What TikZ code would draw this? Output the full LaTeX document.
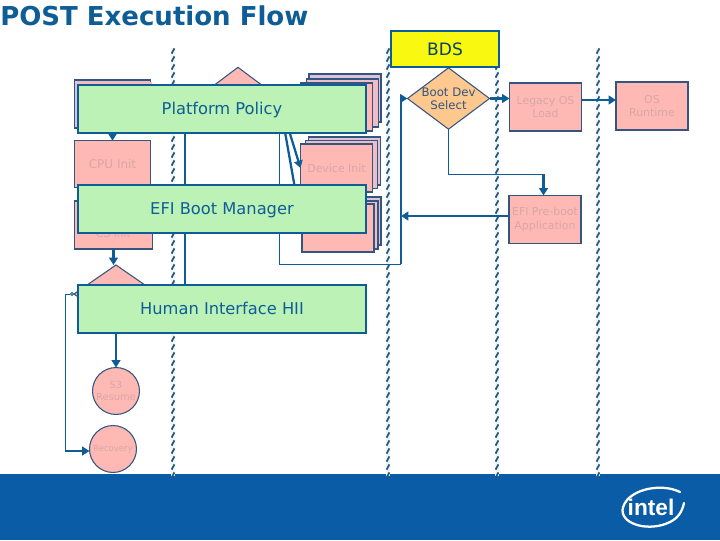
\documentclass[tikz,border=0pt]{standalone}
\usepackage{fontspec}
\setmainfont{DejaVu Sans}
\usetikzlibrary{arrows.meta,shapes.geometric}
\definecolor{postDeep}{HTML}{0F5D96}
\definecolor{postBand}{HTML}{0A5CA6}
\definecolor{postSlate}{HTML}{34557F}
\definecolor{postPink}{HTML}{FFB9B5}
\definecolor{postLilac}{HTML}{DCC3DA}
\definecolor{postGreen}{HTML}{BCF2B6}
\definecolor{postYellow}{HTML}{F8F810}
\definecolor{postOrange}{HTML}{FFC88F}
\definecolor{postFaded}{HTML}{D8A6A6}
\definecolor{postHalo}{HTML}{E6F8FC}
\definecolor{postTick}{HTML}{2F5573}
\newcommand{\smalltxt}[1]{\fontsize{#1}{10pt}\selectfont}

\begin{document}
\begin{tikzpicture}[x=0.75pt,y=-0.75pt,
    pinkbox/.style={draw=postSlate,line width=1.1pt,fill=postPink,outer sep=0pt,inner sep=0pt,
                    minimum width=54pt,minimum height=36pt,align=center,text=postFaded,
                    font=\smalltxt{8.2pt}},
    backbox/.style={pinkbox,fill=postLilac},
    midbox/.style={pinkbox,fill=postPink!50!postLilac},
    phase/.style={draw=postDeep,line width=1.5pt,fill=postGreen,outer sep=0pt,text=postDeep,
                  text height=11pt,text depth=2.5pt,
                  minimum width=216pt,minimum height=36pt,font=\smalltxt{12.2pt}},
    choice/.style={diamond,draw=postSlate,line width=0.8pt,fill=postPink,inner sep=0pt,outer sep=0pt,
                   minimum width=61.5pt,minimum height=46pt},
    stopnode/.style={circle,draw=postSlate,line width=0.8pt,fill=postPink,inner sep=0pt,outer sep=0pt,
                     minimum size=35.2pt,align=center,text=postFaded,font=\smalltxt{7.4pt}},
    flow/.style={draw=postDeep,line width=1.7pt,-{Triangle[length=5.5pt,width=6.5pt]}},
    plain/.style={draw=postDeep,line width=1.7pt},
    thin line/.style={draw=postDeep,line width=0.7pt}]

  \useasboundingbox (0,0) rectangle (720,540);
  \fill[white] (0,0) rectangle (720,540);
  \fill[postBand] (0,474) rectangle (720,540);

  \foreach \xpos in {173,388,497,598} {
    \draw[postHalo,line width=3pt] (\xpos,48) -- (\xpos,476);
    \foreach \ypos in {51,59,...,475}
      \draw[postTick,line width=1.3pt] (\xpos-1.4,\ypos+2.6) -- (\xpos+1.4,\ypos-2.6);
  }

  \node[anchor=west,inner sep=0pt,text=postDeep,font=\smalltxt{19.5pt}\bfseries] (title) at (0,16) {POST Execution Flow};

  % left column
  \node[backbox,minimum width=57pt] (leftBack) at (112.5,104) {};
  \node[pinkbox,minimum width=56pt,draw=none] (leftFront) at (115,106) {};
  \node[pinkbox,minimum width=57pt,minimum height=35pt] (cpuInit) at (112.5,164) {\smalltxt{9pt}CPU Init};
  \node[pinkbox,minimum width=58.5pt,
        label={[yshift=-6.5pt,text=postFaded,font=\smalltxt{8pt}]center:CS Init}] (csInit) at (113.5,225) {};
  \node[choice,minimum height=43.5pt,minimum width=63pt] (lowChoice) at (116,294) {};
  \node[stopnode] (s3Resume) at (116,391) {S3\\[-0.5pt]Resume};
  \node[stopnode,font=\smalltxt{6.4pt}] (recovery) at (113,449) {Recovery};
  \node[choice] (policyChoice) at (238,98) {};

  % driver stacks
  \node[backbox] (topBack) at (345,98) {};
  \node[midbox] (topMid) at (342.5,103) {};
  \node[pinkbox] (topFront) at (336.5,107) {};
  \node[backbox] (devBack) at (344.5,161) {};
  \node[midbox] (devMid) at (341.5,164.5) {};
  \node[pinkbox] (deviceInit) at (336.5,168) {Device Init};
  \node[backbox] (lowBack) at (345,221) {};
  \node[midbox] (lowMid) at (342,225) {};
  \node[pinkbox] (lowFront) at (338,228) {};

  % boot stage
  \node[choice,fill=postOrange,text=postSlate,
        label={[align=center,text=postSlate,font=\smalltxt{8.8pt}]center:Boot Dev\\Select}] (bootSelect) at (448.5,98.5) {};
  \node[pinkbox] (legacyLoad) at (545.5,107) {Legacy OS\\Load};
  \node[pinkbox] (osRuntime) at (652,106) {OS\\Runtime};
  \node[pinkbox] (efiPreboot) at (545,219.5) {EFI Pre-boot\\Application};
  \node[draw=postDeep,line width=1.5pt,fill=postYellow,text=postDeep!70!black,outer sep=0pt,
        minimum width=81pt,minimum height=27pt,font=\smalltxt{12.8pt}] (bds) at (445,49) {BDS};

  \coordinate (busTop) at (185,98);
  \coordinate (sideBus) at (65,294);
  \coordinate (sideTurn) at (65,451);
  \coordinate (dsBus) at (401,264);
  \coordinate (efiJoin) at (401,216);
  \coordinate (bootTurn) at (543.5,174);
  \coordinate (osLink) at (600,100);

  \draw[flow] (leftBack.south) -- (cpuInit.north);
  \draw[flow] (csInit.south) -- (csInit.south |- lowChoice.north);
  \draw[flow] (lowChoice.south) -- (s3Resume.north);
  \draw[plain] (lowChoice.east) -| (busTop) -- (policyChoice.west);
  \draw[thin line,{Circle[open,length=3pt,width=3pt,fill=white]}-] (lowChoice.west) -- (sideBus) -- (sideTurn);
  \draw[flow] (sideTurn) -- (sideTurn -| recovery.west);
  \draw[flow] (policyChoice.east) -- (deviceInit.west);
  \draw[flow] (policyChoice.east) -- (lowFront.west);
  \draw[thin line] (policyChoice.east) |- (dsBus);
  \draw[flow] (dsBus) |- (bootSelect.west);
  \draw[flow] (efiPreboot.west |- efiJoin) -- (efiJoin);
  \draw[thin line] (bootSelect.south) |- (bootTurn);
  \draw[flow] (bootTurn) -- (efiPreboot.north -| bootTurn);
  \draw[flow] (bootSelect.east) -- (bootSelect.east -| legacyLoad.west);
  \draw[flow] (legacyLoad.east |- osLink) -- (osRuntime.west |- osLink);

  \node[phase] (platformPolicy) at (222,108.5) {Platform Policy};
  \node[phase] (bootManager) at (222,209) {EFI Boot Manager};
  \node[phase] (humanInterface) at (222,309) {Human Interface HII};

  \draw[white,line width=1.7pt,line cap=round] (680,492) .. controls (660,482) and (625,490) .. (622.5,510)
    .. controls (622,525) and (650,532) .. (670,522) .. controls (678,518) and (682,512) .. (684,503);
  \node[inner sep=0pt,text=white,font=\fontspec{Liberation Sans}\fontsize{17pt}{17pt}\bfseries] (intelMark) at (651,507) {intel};
\end{tikzpicture}
\end{document}
